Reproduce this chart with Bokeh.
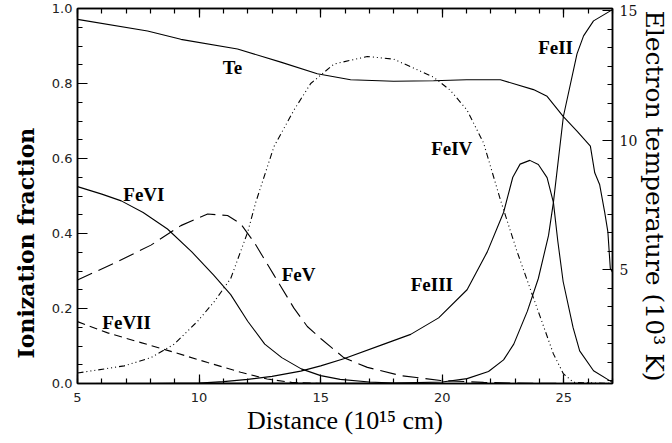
import numpy as np
from bokeh.plotting import figure
from bokeh.models import (Range1d, LinearAxis, SingleIntervalTicker, FixedTicker, Title,
                          PrintfTickFormatter, CustomJSTickFormatter, ColumnDataSource)
from bokeh.core.properties import value
from bokeh.embed import file_html
from bokeh.resources import INLINE

# ---------------- data ----------------
fe6_x = [5, 6.0, 6.8, 7.7, 8.7, 9.7, 10.6, 11.3, 12.0, 12.7, 13.4, 14.2, 15.0, 15.8, 17, 18, 20, 22, 24, 27]
fe6_y = [0.525, 0.505, 0.487, 0.456, 0.412, 0.351, 0.289, 0.237, 0.166, 0.105, 0.069, 0.039, 0.021, 0.011, 0.004, 0.001, 0, 0, 0, 0]

fe7_x = [5, 6.24, 7.61, 8.98, 10.35, 11.71, 12.8, 13.8, 15, 27]
fe7_y = [0.165, 0.135, 0.109, 0.083, 0.056, 0.030, 0.012, 0.003, 0.0, 0.0]

fe5_x = [5, 6.65, 8.02, 9.25, 10.35, 11.17, 11.71, 12.26, 13.08, 13.9, 14.45, 15.0, 15.95, 16.92, 18.3, 19.93, 21.7, 23, 27]
fe5_y = [0.276, 0.325, 0.369, 0.421, 0.452, 0.448, 0.426, 0.377, 0.289, 0.201, 0.152, 0.12, 0.069, 0.043, 0.021, 0.008, 0.003, 0.001, 0]

fe4_x = [5, 6.92, 8.02, 8.98, 9.94, 10.63, 11.3, 12.0, 12.33, 13.08, 13.9, 14.59, 15.55, 16.92, 18.0, 19.64, 20.33,
         21.02, 21.7, 22.39, 23.08, 23.75, 24.57, 24.98, 25.4, 27]
fe4_y = [0.028, 0.047, 0.069, 0.105, 0.166, 0.219, 0.28, 0.404, 0.483, 0.632, 0.729, 0.80, 0.852, 0.872, 0.865, 0.817, 0.782,
         0.729, 0.641, 0.49, 0.351, 0.228, 0.079, 0.026, 0.003, 0]

fe3_x = [5, 8, 10, 11.0, 12.0, 13.0, 14.18, 15.0, 15.95, 17.6, 18.7, 19.85, 21.02, 21.85, 22.52, 22.9, 23.2, 23.6,
         23.95, 24.31, 24.57, 24.75, 24.97, 25.38, 25.65, 26.22, 27]
fe3_y = [0, 0, 0.001, 0.005, 0.011, 0.019, 0.033, 0.047, 0.066, 0.105, 0.131, 0.175, 0.25, 0.351, 0.456, 0.55, 0.585, 0.595,
         0.584, 0.549, 0.483, 0.38, 0.272, 0.149, 0.087, 0.034, 0.003]

fe2_x = [5, 18, 20, 21.02, 21.9, 22.52, 22.94, 23.5, 23.95, 24.37, 24.57, 24.98, 25.54, 25.81, 26.22, 27]
fe2_y = [0, 0.001, 0.004, 0.013, 0.032, 0.063, 0.105, 0.193, 0.28, 0.395, 0.483, 0.712, 0.879, 0.927, 0.967, 0.997]

# electron temperature (10^3 K)
te_x = [5, 7.88, 9.25, 11.58, 13.36, 14.86, 16.23, 18.0, 19.64, 21.0, 22.39, 23.75, 24.31, 24.98, 25.54, 26.09,
        26.27, 26.47, 26.68, 26.81, 26.91, 27]
te_k = [14.66, 14.21, 13.89, 13.52, 13.01, 12.56, 12.33, 12.27, 12.29, 12.33, 12.33, 11.95, 11.69, 10.91, 10.35, 9.77,
        8.74, 8.29, 7.21, 6.46, 5.05, 4.9]

label_text = ["Te", "FeVI", "FeVII", "FeV", "FeIV", "FeIII", "FeII"]
label_x = [11.37, 7.73, 7.02, 14.09, 20.39, 19.57, 24.66]
label_y = [0.844, 0.503, 0.164, 0.292, 0.626, 0.265, 0.896]

x_ticks_major = 5
y_ticks_major = 0.2
te_major = [5, 10, 15]

# ---------------- figure ----------------
p = figure(width=672, height=443, x_range=Range1d(5, 27), y_range=Range1d(0, 1),
           output_backend="svg", toolbar_location=None,
           min_border_left=76, min_border_right=60, min_border_top=8, min_border_bottom=60)
p.extra_y_ranges = {"te": Range1d(0.61, 15.08)}
p.xgrid.visible = False
p.ygrid.visible = False
p.outline_line_color = "black"
p.outline_line_width = 1.5
p.background_fill_color = "white"
p.border_fill_color = "white"

def style_axis(ax, major_len, minor_len):
    ax.major_tick_in = major_len
    ax.major_tick_out = 0
    ax.minor_tick_in = minor_len
    ax.minor_tick_out = 0
    ax.axis_line_width = 1.5
    ax.axis_line_color = "black"
    ax.major_tick_line_color = "black"
    ax.minor_tick_line_color = "black"
    ax.major_tick_line_width = 1.2
    ax.minor_tick_line_width = 1.2

# bottom
xa = p.xaxis[0]
xa.ticker = SingleIntervalTicker(interval=x_ticks_major, num_minor_ticks=5)
style_axis(xa, 9, 5)
xa.major_label_text_font = "DejaVu Sans"
xa.major_label_text_font_size = "13px"
xa.major_label_text_color = "#222222"
xa.major_label_standoff = 9
xa.axis_label = "Distance (10\u00b9\u2075 cm)"
xa.axis_label_text_font = "Liberation Serif"
xa.axis_label_text_font_size = "26px"
xa.axis_label_text_font_style = "normal"
xa.axis_label_text_color = "black"
xa.axis_label_standoff = 1

# top (ticks only)
ta = LinearAxis(ticker=SingleIntervalTicker(interval=x_ticks_major, num_minor_ticks=5),
                formatter=CustomJSTickFormatter(code="return ''"))
style_axis(ta, 9, 5)
ta.major_label_text_font_size = "0px"
ta.major_label_standoff = 0
p.add_layout(ta, "above")

# left
ya = p.yaxis[0]
ya.ticker = SingleIntervalTicker(interval=y_ticks_major, num_minor_ticks=4)
ya.formatter = PrintfTickFormatter(format="%.1f")
style_axis(ya, 10, 5)
ya.major_label_text_font = "DejaVu Sans"
ya.major_label_text_font_size = "13px"
ya.major_label_text_color = "#222222"
ya.major_label_standoff = 5

# left title (starts a little above the bottom of the frame, as in the original)
p.add_layout(Title(text="Ionization fraction", align="left", offset=25, standoff=20,
                   text_font="DejaVu Serif", text_font_size="22px", text_font_style="bold",
                   text_color="black"), "left")

# right (temperature)
te_minor = list(5 + np.arange(-6, 15) * 5.0 / 7.0)
ra = LinearAxis(y_range_name="te", ticker=FixedTicker(ticks=te_major, minor_ticks=te_minor),
                formatter=PrintfTickFormatter(format="%d"))
style_axis(ra, 10, 5)
ra.major_label_text_font = "DejaVu Serif"
ra.major_label_text_font_size = "14px"
ra.major_label_text_color = "#111111"
ra.major_label_standoff = 7
ra.axis_label = "Electron temperature (10\u00b3 K)"
ra.axis_label_text_font = "DejaVu Serif"
ra.axis_label_text_font_size = "25px"
ra.axis_label_text_font_style = "normal"
ra.axis_label_text_color = "black"
ra.axis_label_standoff = 0
p.add_layout(ra, "right")

# ---------------- curves ----------------
lw = 1.1
p.line(fe6_x, fe6_y, line_color="black", line_width=lw)
p.line(fe7_x, fe7_y, line_color="black", line_width=lw, line_dash="8 5")
p.line(fe5_x, fe5_y, line_color="black", line_width=lw, line_dash="16 7")
p.line(fe4_x, fe4_y, line_color="black", line_width=lw, line_dash="6 3 1 3 1 3 1 3")
p.line(fe3_x, fe3_y, line_color="black", line_width=lw)
p.line(fe2_x, fe2_y, line_color="black", line_width=lw)
p.line(te_x, te_k, line_color="black", line_width=lw, y_range_name="te")

src = ColumnDataSource(dict(x=label_x, y=label_y, t=label_text))
p.text(x="x", y="y", text="t", source=src, text_font=value("Liberation Serif"),
       text_font_style="bold", text_font_size="19px", text_align="center",
       text_baseline="middle", text_color="black")

open("out.html", "w").write(file_html(p, INLINE))
